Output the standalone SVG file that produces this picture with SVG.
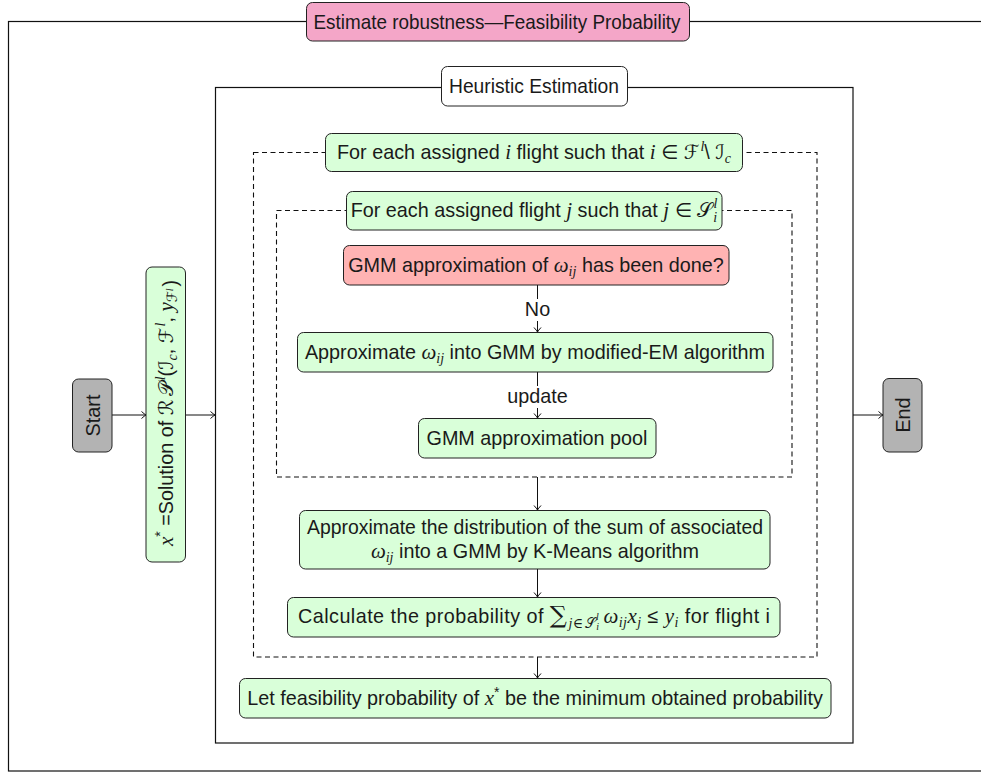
<svg xmlns="http://www.w3.org/2000/svg" width="981" height="774" viewBox="0 0 981 774">
<defs>
<style>
.t{font-family:"Liberation Sans","DejaVu Sans",sans-serif;font-size:19.8px;fill:#1a1a1a}
.m{font-family:"Liberation Serif","DejaVu Serif",serif;font-style:italic;font-size:21px}
.c{font-family:"DejaVu Serif","DejaVu Sans",serif;font-style:normal;font-size:20px}
.s{font-size:14px}
.ss{font-size:10px}
.box{stroke:#222;stroke-width:1}
.g{fill:#d9ffd9}
.r{fill:#ffb3b3}
.p{fill:#f4a6c8}
.gr{fill:#b3b3b3}
.w{fill:#ffffff}
.frame{fill:none;stroke:#111;stroke-width:1.2}
.dash{fill:none;stroke:#111;stroke-width:1.1;stroke-dasharray:5 3.5}
.ln{stroke:#111;stroke-width:1;fill:none}
</style>
<marker id="ar" markerUnits="userSpaceOnUse" markerWidth="10" markerHeight="10" refX="0" refY="0" viewBox="-6 -5 7 10" orient="auto">
<path d="M-4.5,-3.5 Q-1.5,-0.8 0,0 Q-1.5,0.8 -4.5,3.5" fill="none" stroke="#111" stroke-width="1"/>
</marker>
</defs>
<rect width="981" height="774" fill="#ffffff"/>

<g id="frames">
<rect class="frame" x="8.5" y="21.5" width="1000" height="749.5"/>
<rect class="frame" x="215.5" y="87.5" width="637.5" height="655.5"/>
<rect class="dash" x="253.5" y="152.5" width="563.5" height="504.5"/>
<rect class="dash" x="276.5" y="210.5" width="515.5" height="266.5"/>
</g>

<g id="connectors">
<line class="ln" x1="112" y1="415" x2="146" y2="415" marker-end="url(#ar)"/>
<line class="ln" x1="186" y1="415" x2="215" y2="415" marker-end="url(#ar)"/>
<line class="ln" x1="853" y1="415" x2="883" y2="415" marker-end="url(#ar)"/>
<line class="ln" x1="537.5" y1="285" x2="537.5" y2="332" marker-end="url(#ar)"/>
<rect x="520" y="299" width="35" height="22" fill="#ffffff"/>
<text class="t" x="537.5" y="316" text-anchor="middle">No</text>
<line class="ln" x1="537.5" y1="372" x2="537.5" y2="418" marker-end="url(#ar)"/>
<rect x="503" y="386" width="69" height="22" fill="#ffffff"/>
<text class="t" x="537.5" y="403" text-anchor="middle">update</text>
<line class="ln" x1="537.5" y1="477" x2="537.5" y2="510" marker-end="url(#ar)"/>
<line class="ln" x1="537.5" y1="569" x2="537.5" y2="597" marker-end="url(#ar)"/>
<line class="ln" x1="537.5" y1="657" x2="537.5" y2="678" marker-end="url(#ar)"/>
</g>

<g id="title">
<rect class="box p" x="306.5" y="2.5" width="383" height="38.5" rx="6"/>
<text class="t" x="497" y="28.5" text-anchor="middle" textLength="367" lengthAdjust="spacingAndGlyphs">Estimate robustness—Feasibility Probability</text>
</g>

<g id="heuristic">
<rect class="box w" x="441.5" y="66.5" width="186" height="39.5" rx="6"/>
<text class="t" x="534" y="93" text-anchor="middle" textLength="170" lengthAdjust="spacingAndGlyphs">Heuristic Estimation</text>
</g>

<g id="start">
<rect class="box gr" x="72.5" y="379" width="39.5" height="73" rx="6"/>
<text class="t" transform="translate(92.5,415.5) rotate(-90)" x="0" y="7" text-anchor="middle">Start</text>
</g>

<g id="solution">
<rect class="box g" x="146" y="267" width="39.5" height="295" rx="6"/>
<text class="t" transform="translate(166,413) rotate(-90)" x="0" y="7" text-anchor="middle"><tspan class="m">x</tspan><tspan dy="-8" class="s">*</tspan><tspan dy="8"> =Solution of </tspan><tspan class="c">ℛ</tspan><tspan class="c" dx="3">𝒫</tspan><tspan class="m s" dx="2" dy="-8">l</tspan><tspan dy="8">(</tspan><tspan class="c">ℐ</tspan><tspan class="m s" dy="4">c</tspan><tspan dy="-4">, </tspan><tspan class="c">ℱ</tspan><tspan class="m s" dx="1" dy="-8">l</tspan><tspan dy="8">, </tspan><tspan class="m">y</tspan><tspan class="c s" dy="4">ℱ</tspan><tspan class="m ss" dy="-4">l</tspan><tspan dy="4" dx="2">)</tspan></text>
</g>

<g id="end">
<rect class="box gr" x="883" y="378.5" width="39" height="73.5" rx="6"/>
<text class="t" transform="translate(902.5,415) rotate(-90)" x="0" y="7" text-anchor="middle">End</text>
</g>

<g id="loop-i">
<rect class="box g" x="325.5" y="133.5" width="417" height="38" rx="6"/>
<text class="t" x="534" y="159" text-anchor="middle">For each assigned <tspan class="m">i</tspan> flight such that <tspan class="m">i</tspan> ∈ <tspan class="c">ℱ</tspan><tspan class="m s" dx="1" dy="-8">l</tspan><tspan dy="8">\ </tspan><tspan class="c">ℐ</tspan><tspan class="m s" dy="4">c</tspan></text>
</g>

<g id="loop-j">
<rect class="box g" x="346.5" y="191.5" width="375.5" height="38.5" rx="6"/>
<text class="t" x="534" y="217" text-anchor="middle">For each assigned flight <tspan class="m">j</tspan> such that <tspan class="m">j</tspan> ∈ <tspan class="c">𝒮</tspan><tspan class="m s" dx="1" dy="-9">l</tspan><tspan class="m s" dx="-4" dy="14">i</tspan></text>
</g>

<g id="check">
<rect class="box r" x="343.5" y="245.5" width="385.5" height="39.5" rx="6"/>
<text class="t" x="536" y="272" text-anchor="middle">GMM approximation of <tspan class="m">ω</tspan><tspan class="m s" dy="4">ij</tspan><tspan dy="-4"> has been done?</tspan></text>
</g>

<g id="em">
<rect class="box g" x="297.5" y="332.5" width="475.5" height="39.5" rx="6"/>
<text class="t" x="535" y="359" text-anchor="middle">Approximate <tspan class="m">ω</tspan><tspan class="m s" dy="4">ij</tspan><tspan dy="-4"> into GMM by modified-EM algorithm</tspan></text>
</g>

<g id="pool">
<rect class="box g" x="418.5" y="418.5" width="237.5" height="39.5" rx="6"/>
<text class="t" x="537" y="445" text-anchor="middle">GMM approximation pool</text>
</g>

<g id="kmeans">
<rect class="box g" x="299.5" y="510.5" width="470.5" height="58.5" rx="6"/>
<text class="t" x="535" y="534" text-anchor="middle" textLength="456" lengthAdjust="spacingAndGlyphs">Approximate the distribution of the sum of associated</text>
<text class="t" x="535" y="558" text-anchor="middle"><tspan class="m">ω</tspan><tspan class="m s" dy="4">ij</tspan><tspan dy="-4"> into a GMM by K-Means algorithm</tspan></text>
</g>

<g id="calc">
<rect class="box g" x="287.5" y="597.5" width="492.5" height="39.5" rx="6"/>
<text class="t" x="534" y="623" text-anchor="middle" textLength="472">Calculate the probability of <tspan class="c" style="font-size:24px">∑</tspan><tspan class="m s" dy="5" dx="1">j</tspan><tspan class="c s">∈</tspan><tspan class="c s" dx="1">𝒮</tspan><tspan class="m ss" dy="-8">l</tspan><tspan class="m ss" dx="-3" dy="10">i</tspan><tspan class="m" dx="4" dy="-7">ω</tspan><tspan class="m s" dy="4">ij</tspan><tspan class="m" dy="-4">x</tspan><tspan class="m s" dy="4">j</tspan><tspan dy="-4"> ≤ </tspan><tspan class="m">y</tspan><tspan class="m s" dy="4">i</tspan><tspan dy="-4"> for flight i</tspan></text>
</g>

<g id="final">
<rect class="box g" x="239.5" y="678.5" width="591.5" height="39.5" rx="6"/>
<text class="t" x="535" y="705" text-anchor="middle">Let feasibility probability of <tspan class="m">x</tspan><tspan class="s" dy="-8">*</tspan><tspan dy="8"> be the minimum obtained probability</tspan></text>
</g>
</svg>
